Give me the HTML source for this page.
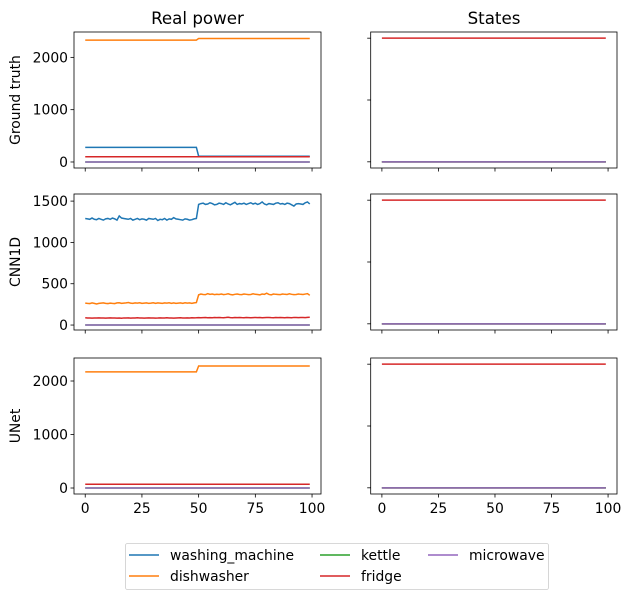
<!DOCTYPE html>
<html><head><meta charset="utf-8"><style>
body{margin:0;background:#fff;font-family:"Liberation Sans","DejaVu Sans",sans-serif;}
svg text{font-family:"DejaVu Sans","Liberation Sans",sans-serif;}
</style></head><body>
<svg id="chart" width="631" height="599" xmlns="http://www.w3.org/2000/svg"></svg>
<script>
const xIdx = Array.from({length:100},(_,i)=>i);
const xTicks = [0,25,50,75,100];
const gtWashing = [...Array(50).fill(280), ...Array(50).fill(110)];
const gtDish = [...Array(50).fill(2330), ...Array(50).fill(2360)];
const gtKettle = Array(100).fill(0);
const gtFridge = Array(100).fill(100);
const gtMicro = Array(100).fill(0);
const cnnWashing = [1290,1285,1280,1295,1280,1275,1290,1280,1270,1285,1290,1280,1295,1285,1270,1320,1295,1290,1285,1280,1290,1270,1280,1290,1275,1285,1280,1270,1290,1285,1280,1290,1265,1280,1275,1290,1270,1285,1280,1300,1285,1280,1275,1270,1285,1280,1270,1275,1285,1290,
1460,1470,1475,1460,1465,1480,1470,1455,1460,1475,1470,1460,1480,1465,1455,1470,1485,1460,1470,1465,1475,1460,1470,1480,1465,1475,1460,1470,1490,1465,1455,1470,1465,1460,1475,1480,1465,1470,1460,1475,1470,1455,1440,1465,1470,1465,1460,1480,1490,1465];
const cnnDish = [265,262,260,268,262,255,262,265,268,262,260,265,262,260,268,270,262,265,268,272,265,262,268,265,270,262,265,268,262,265,270,262,268,265,262,268,265,270,262,268,262,265,268,262,270,265,268,262,268,272,
365,375,370,368,380,372,375,368,372,370,375,368,372,378,370,365,372,375,370,368,375,372,368,370,378,372,370,365,375,372,385,370,365,375,372,370,368,375,372,370,378,372,368,370,375,372,370,375,380,360];
const cnnKettle = Array(100).fill(0);
const cnnFridge = [88,85,86,84,86,85,87,86,85,84,86,87,85,86,84,85,82,86,85,87,84,86,85,88,86,85,84,86,87,85,86,84,85,87,86,85,88,86,85,84,86,87,88,86,85,87,86,88,87,88,
90,88,90,91,89,90,88,91,90,92,90,89,91,94,90,89,91,90,92,90,89,91,90,88,90,92,90,91,89,90,91,92,90,89,91,90,92,90,88,91,90,89,92,91,90,92,91,90,93,94];
const cnnMicro = Array(100).fill(0);
const unetWashing = Array(100).fill(0);
const unetDish = [...Array(50).fill(2170), ...Array(50).fill(2280)];
const unetKettle = Array(100).fill(0);
const unetFridge = Array(100).fill(70);
const unetMicro = Array(100).fill(0);
const stateFridge = Array(100).fill(2);
const stateOther = Array(100).fill(0);
const rowLabels = ["Ground truth","CNN1D","UNet"];
const row1Ticks = [0,1000,2000];
const row2Ticks = [0,500,1000,1500];
const row3Ticks = [0,1000,2000];
const stateTicks = [0,1,2];
const names = ["washing_machine","dishwasher","kettle","fridge","microwave"];
const colors = ["#1f77b4","#ff7f0e","#2ca02c","#d62728","#9467bd"];

const NS="http://www.w3.org/2000/svg";
const svg=document.getElementById('chart');
function mk(tag,attrs,parent){const e=document.createElementNS(NS,tag);for(const k in attrs)e.setAttribute(k,attrs[k]);(parent||svg).appendChild(e);return e;}

const rows=[{top:32,bot:168,dom:[-115,2485],ticks:row1Ticks,series:[gtWashing,gtDish,gtKettle,gtFridge,gtMicro]},
{top:194,bot:330,dom:[-60,1586],ticks:row2Ticks,series:[cnnWashing,cnnDish,cnnKettle,cnnFridge,cnnMicro]},
{top:358,bot:494,dom:[-112,2430],ticks:row3Ticks,series:[unetWashing,unetDish,unetKettle,unetFridge,unetMicro]}];
const cols=[{l:74,r:321},{l:370.7,r:617}];
const xDom=[-4.95,103.95];

rows.forEach((row,ri)=>{
  cols.forEach((col,ci)=>{
    const g=mk('g',{});
    
    
    const xs=v=>col.l+(v-xDom[0])/(xDom[1]-xDom[0])*(col.r-col.l);
    const dom=ci===0?row.dom:[-0.1,2.1];
    const ys=v=>row.bot-(v-dom[0])/(dom[1]-dom[0])*(row.bot-row.top);
    const ser=ci===0?row.series:[stateOther,stateOther,stateOther,stateFridge,stateOther];
    [0,1,2,3,4].forEach(si=>{
      if(ci===0 && ri===2 && si===0) return;
      const d=ser[si].map((v,i)=>(i?'L':'M')+xs(xIdx[i]).toFixed(2)+' '+ys(v).toFixed(2)).join('');
      const p=mk('path',{d:d,fill:'none',stroke:colors[si],'stroke-width':1.5},g);
      
      
    });
    mk('rect',{x:col.l,y:row.top,width:col.r-col.l,height:row.bot-row.top,fill:'none',stroke:'#000','stroke-width':0.8},g);
    xTicks.forEach(t=>{
      mk('line',{x1:xs(t),x2:xs(t),y1:row.bot,y2:row.bot+3.5,stroke:'#000','stroke-width':0.8},g);
      if(ri===2){const tx=mk('text',{x:xs(t),y:row.bot+19,'text-anchor':'middle','font-size':13.9,fill:'#000'},g);tx.textContent=t;
        }
    });
    const yt=ci===0?row.ticks:stateTicks;
    yt.forEach(t=>{
      mk('line',{x1:col.l,x2:col.l-3.5,y1:ys(t),y2:ys(t),stroke:'#000','stroke-width':0.8},g);
      if(ci===0){const tx=mk('text',{x:col.l-6,y:ys(t)+5,'text-anchor':'end','font-size':13.9,fill:'#000'},g);tx.textContent=t;
        }
    });
  });
  const yl=mk('text',{transform:`translate(20,${(row.top+row.bot)/2}) rotate(-90)`,'text-anchor':'middle','font-size':13.9,fill:'#000'});
  yl.textContent=rowLabels[ri];
  
  
});
const t1=mk('text',{x:197.5,y:24,'text-anchor':'middle','font-size':16.7,fill:'#000'});t1.textContent='Real power';


const t2=mk('text',{x:494,y:24,'text-anchor':'middle','font-size':16.7,fill:'#000'});t2.textContent='States';



const lg=mk('g',{});


mk('rect',{x:125.5,y:543.5,width:423,height:46,rx:2,fill:'#fff',stroke:'#ccc','stroke-width':0.8},lg);
const pos=[[129,555],[129,576],[320,555],[320,576],[428,555]];
names.forEach((n,i)=>{
  const [x,y]=pos[i];
  mk('line',{x1:x,x2:x+30,y1:y,y2:y,stroke:colors[i],'stroke-width':1.5},lg);
  const tx=mk('text',{x:x+41,y:y+5,'font-size':13.9,fill:'#000'},lg);tx.textContent=n;
  
  
});
</script>
</body></html>
